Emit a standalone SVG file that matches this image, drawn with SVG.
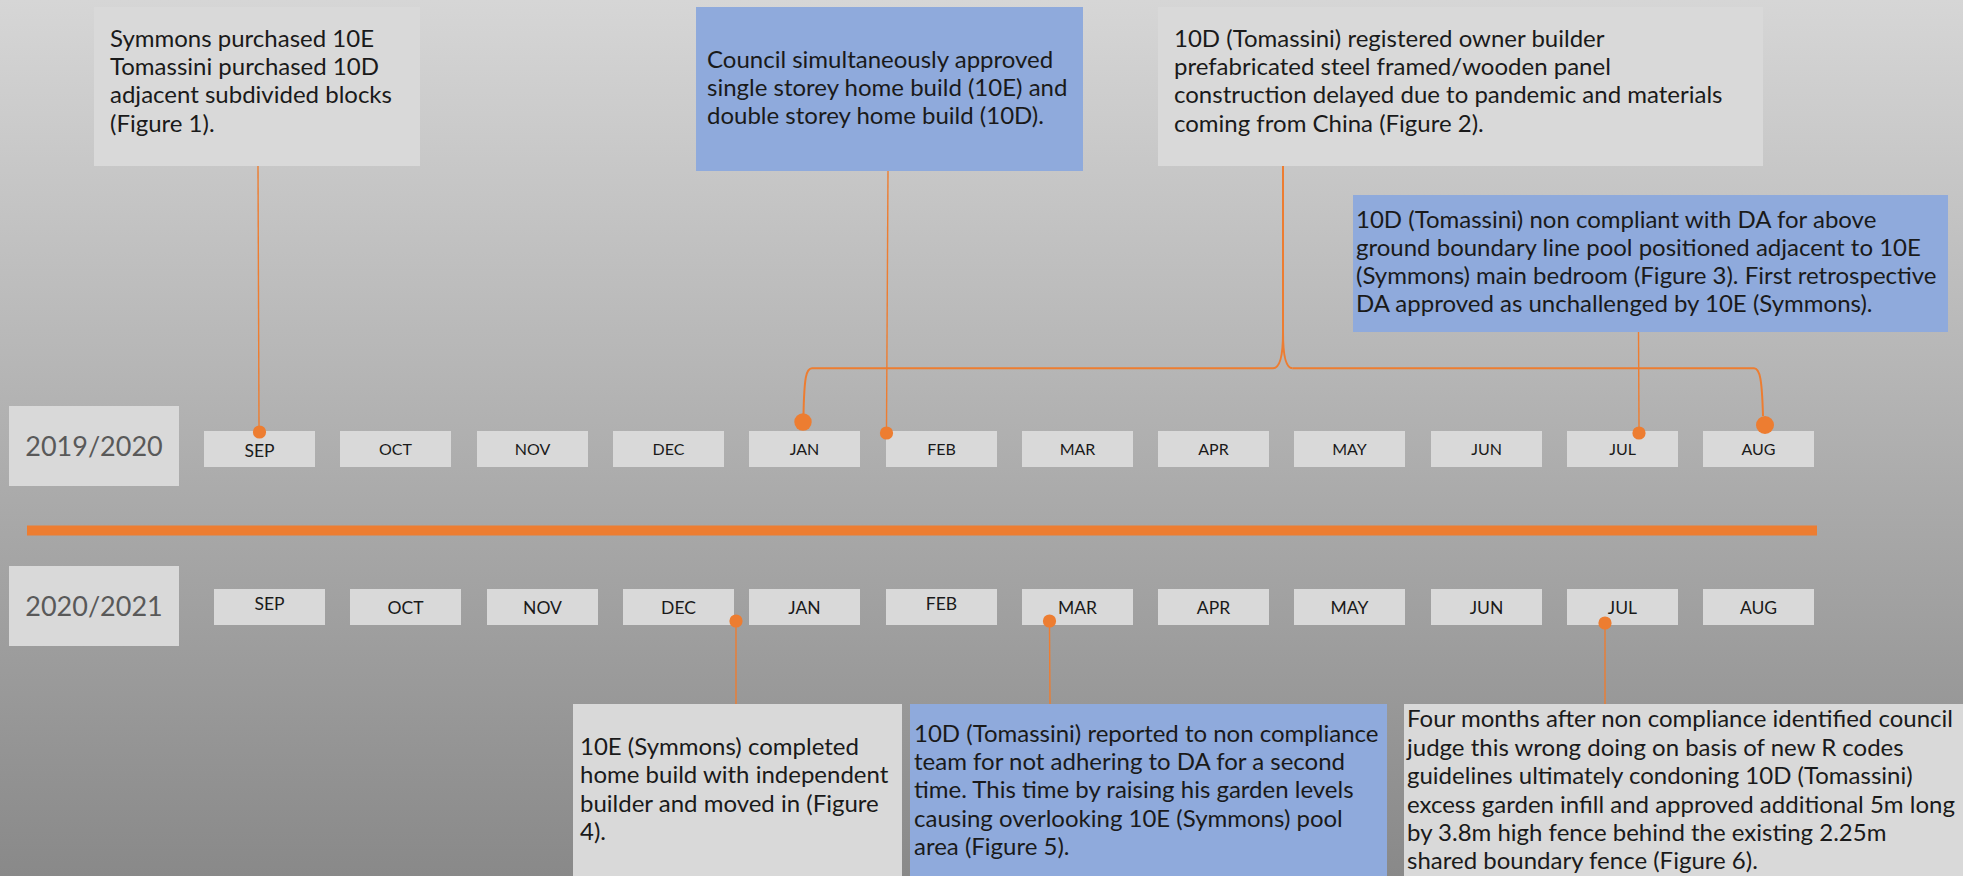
<svg xmlns="http://www.w3.org/2000/svg" width="1963" height="876" viewBox="0 0 1963 876">
<defs>
<linearGradient id="bg" x1="0" y1="0" x2="0" y2="1">
<stop offset="0" stop-color="#d6d6d6"/>
<stop offset="1" stop-color="#898989"/>
</linearGradient>
</defs>
<style>
.gbox{fill:#d9d9d9}
.bbox{fill:#8faadc}
.txt{font-family:Lato,"Liberation Sans",sans-serif;font-size:24px;fill:#1a1a1a}
.mon{font-family:Lato,"Liberation Sans",sans-serif;font-size:16px;fill:#1a1a1a;text-anchor:middle}
.mon2{font-family:Lato,"Liberation Sans",sans-serif;font-size:17.5px;fill:#1a1a1a;text-anchor:middle}
.year{font-family:Lato,"Liberation Sans",sans-serif;font-size:27px;fill:#595959;text-anchor:middle}
.ln{fill:none;stroke:#ed7d31;stroke-width:1.4}
.lnb{fill:none;stroke:#ed7d31;stroke-width:2}
.dot{fill:#ed7d31}
</style>
<rect x="0" y="0" width="1963" height="876" fill="url(#bg)"/>

<g id="bar"><rect x="27" y="525.5" width="1790" height="10" fill="#ed7d31"/></g>

<g id="year-2019-2020"><rect class="gbox" x="9" y="406" width="170" height="80"/><text class="year" x="94" y="456">2019/2020</text></g>
<g id="year-2020-2021"><rect class="gbox" x="9" y="566" width="170" height="80"/><text class="year" x="94" y="616">2020/2021</text></g>

<g id="months-2019-2020">
<g id="m1-sep"><rect class="gbox" x="204" y="431" width="111" height="36"/><text class="mon" x="259.5" y="456.5" style="font-size:17.5px">SEP</text></g>
<g id="m1-oct"><rect class="gbox" x="340" y="431" width="111" height="36"/><text class="mon" x="395.5" y="455">OCT</text></g>
<g id="m1-nov"><rect class="gbox" x="477" y="431" width="111" height="36"/><text class="mon" x="532.5" y="455">NOV</text></g>
<g id="m1-dec"><rect class="gbox" x="613" y="431" width="111" height="36"/><text class="mon" x="668.5" y="455">DEC</text></g>
<g id="m1-jan"><rect class="gbox" x="749" y="431" width="111" height="36"/><text class="mon" x="804.5" y="455">JAN</text></g>
<g id="m1-feb"><rect class="gbox" x="886" y="431" width="111" height="36"/><text class="mon" x="941.5" y="455">FEB</text></g>
<g id="m1-mar"><rect class="gbox" x="1022" y="431" width="111" height="36"/><text class="mon" x="1077.5" y="455">MAR</text></g>
<g id="m1-apr"><rect class="gbox" x="1158" y="431" width="111" height="36"/><text class="mon" x="1213.5" y="455">APR</text></g>
<g id="m1-may"><rect class="gbox" x="1294" y="431" width="111" height="36"/><text class="mon" x="1349.5" y="455">MAY</text></g>
<g id="m1-jun"><rect class="gbox" x="1431" y="431" width="111" height="36"/><text class="mon" x="1486.5" y="455">JUN</text></g>
<g id="m1-jul"><rect class="gbox" x="1567" y="431" width="111" height="36"/><text class="mon" x="1622.5" y="455">JUL</text></g>
<g id="m1-aug"><rect class="gbox" x="1703" y="431" width="111" height="36"/><text class="mon" x="1758.5" y="455">AUG</text></g>
</g>

<g id="months-2020-2021">
<g id="m2-sep"><rect class="gbox" x="214" y="589" width="111" height="36"/><text class="mon2" x="269.5" y="609.5">SEP</text></g>
<g id="m2-oct"><rect class="gbox" x="350" y="589" width="111" height="36"/><text class="mon2" x="405.5" y="613.5">OCT</text></g>
<g id="m2-nov"><rect class="gbox" x="487" y="589" width="111" height="36"/><text class="mon2" x="542.5" y="613.5">NOV</text></g>
<g id="m2-dec"><rect class="gbox" x="623" y="589" width="111" height="36"/><text class="mon2" x="678.5" y="613.5">DEC</text></g>
<g id="m2-jan"><rect class="gbox" x="749" y="589" width="111" height="36"/><text class="mon2" x="804.5" y="613.5">JAN</text></g>
<g id="m2-feb"><rect class="gbox" x="886" y="589" width="111" height="36"/><text class="mon2" x="941.5" y="609.5">FEB</text></g>
<g id="m2-mar"><rect class="gbox" x="1022" y="589" width="111" height="36"/><text class="mon2" x="1077.5" y="613.5">MAR</text></g>
<g id="m2-apr"><rect class="gbox" x="1158" y="589" width="111" height="36"/><text class="mon2" x="1213.5" y="613.5">APR</text></g>
<g id="m2-may"><rect class="gbox" x="1294" y="589" width="111" height="36"/><text class="mon2" x="1349.5" y="613.5">MAY</text></g>
<g id="m2-jun"><rect class="gbox" x="1431" y="589" width="111" height="36"/><text class="mon2" x="1486.5" y="613.5">JUN</text></g>
<g id="m2-jul"><rect class="gbox" x="1567" y="589" width="111" height="36"/><text class="mon2" x="1622.5" y="613.5">JUL</text></g>
<g id="m2-aug"><rect class="gbox" x="1703" y="589" width="111" height="36"/><text class="mon2" x="1758.5" y="613.5">AUG</text></g>
</g>

<g id="connectors">
<path class="ln" d="M258,166 L259,426"/>
<circle class="dot" cx="259.5" cy="432" r="6.6"/>
<path class="ln" d="M888,171 L886.5,427"/>
<circle class="dot" cx="886.5" cy="433" r="6.6"/>
<path class="lnb" d="M1283,166 L1283,333"/>
<path class="lnb" d="M1273,368.3 C1280,368.3 1283,356 1283,333 M1292.5,368.3 C1286,368.3 1283,356 1283,333"/>
<path class="lnb" d="M1273,368.3 L812,368.3 C806,368.3 804.3,378 803.5,414"/>
<path class="lnb" d="M1292.5,368.3 L1754,368.3 C1760,368.3 1762,380 1763,416"/>
<circle class="dot" cx="803" cy="422" r="8.7"/>
<circle class="dot" cx="1765" cy="425" r="9"/>
<path class="ln" d="M1638.5,332 L1639,427"/>
<circle class="dot" cx="1639" cy="433" r="6.6"/>
<circle class="dot" cx="736" cy="621" r="6.6"/>
<path class="ln" d="M736,627 L736,704"/>
<circle class="dot" cx="1049.5" cy="621" r="6.6"/>
<path class="ln" d="M1049.5,627 L1050,704"/>
<circle class="dot" cx="1605" cy="623" r="6.6"/>
<path class="ln" d="M1605,629 L1605,704"/>
</g>

<g id="n-purchase">
<rect class="gbox" x="94" y="7" width="326" height="159"/>
<text class="txt"><tspan x="110" y="47">Symmons purchased 10E</tspan><tspan x="110" y="75">Tomassini purchased 10D</tspan><tspan x="110" y="103">adjacent subdivided blocks</tspan><tspan x="110" y="132">(Figure 1).</tspan></text>
</g>

<g id="n-council">
<rect class="bbox" x="696" y="7" width="387" height="164"/>
<text class="txt"><tspan x="707" y="68">Council simultaneously approved</tspan><tspan x="707" y="96">single storey home build (10E) and</tspan><tspan x="707" y="124">double storey home build (10D).</tspan></text>
</g>

<g id="n-owner-builder">
<rect class="gbox" x="1158" y="7" width="605" height="159"/>
<text class="txt"><tspan x="1174" y="47">10D (Tomassini) registered owner builder</tspan><tspan x="1174" y="75">prefabricated steel framed/wooden panel</tspan><tspan x="1174" y="103">construction delayed due to pandemic and materials</tspan><tspan x="1174" y="132">coming from China (Figure 2).</tspan></text>
</g>

<g id="n-pool">
<rect class="bbox" x="1353" y="195" width="595" height="137"/>
<text class="txt"><tspan x="1356" y="228">10D (Tomassini) non compliant with DA for above</tspan><tspan x="1356" y="256">ground boundary line pool positioned adjacent to 10E</tspan><tspan x="1356" y="284">(Symmons) main bedroom (Figure 3). First retrospective</tspan><tspan x="1356" y="312">DA approved as unchallenged by 10E (Symmons).</tspan></text>
</g>

<g id="n-completed">
<rect class="gbox" x="573" y="704" width="329" height="172"/>
<text class="txt"><tspan x="580" y="755">10E (Symmons) completed</tspan><tspan x="580" y="783">home build with independent</tspan><tspan x="580" y="812">builder and moved in (Figure</tspan><tspan x="580" y="840">4).</tspan></text>
</g>

<g id="n-garden">
<rect class="bbox" x="910" y="704" width="477" height="172"/>
<text class="txt"><tspan x="914" y="742">10D (Tomassini) reported to non compliance</tspan><tspan x="914" y="770">team for not adhering to DA for a second</tspan><tspan x="914" y="798">time. This time by raising his garden levels</tspan><tspan x="914" y="827">causing overlooking 10E (Symmons) pool</tspan><tspan x="914" y="855">area (Figure 5).</tspan></text>
</g>

<g id="n-fence">
<rect class="gbox" x="1404" y="704" width="559" height="172"/>
<text class="txt"><tspan x="1407" y="727">Four months after non compliance identified council</tspan><tspan x="1407" y="756">judge this wrong doing on basis of new R codes</tspan><tspan x="1407" y="784">guidelines ultimately condoning 10D (Tomassini)</tspan><tspan x="1407" y="813">excess garden infill and approved additional 5m long</tspan><tspan x="1407" y="841">by 3.8m high fence behind the existing 2.25m</tspan><tspan x="1407" y="869">shared boundary fence (Figure 6).</tspan></text>
</g>
</svg>
